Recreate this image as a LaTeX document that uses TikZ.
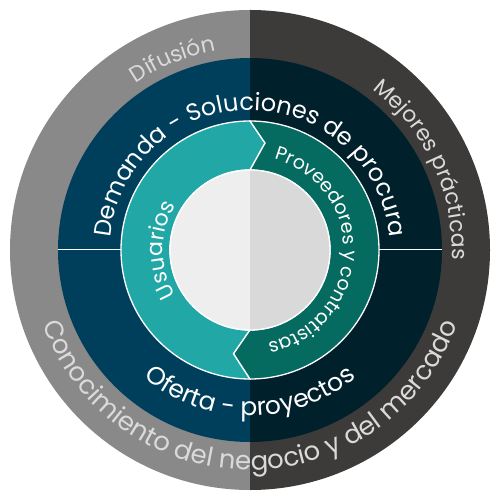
\documentclass[tikz,border=0pt]{standalone}
\usepackage{fontspec}
\setmainfont{Poppins}
\usetikzlibrary{decorations.text}
\definecolor{ringgreyA}{HTML}{898989}
\definecolor{ringgreyB}{HTML}{3D3B39}
\definecolor{ringblueA}{HTML}{003F5C}
\definecolor{ringblueB}{HTML}{00202B}
\definecolor{ringtealA}{HTML}{21A8A6}
\definecolor{ringtealB}{HTML}{056A60}
\definecolor{hubA}{HTML}{EEEEEE}
\definecolor{hubB}{HTML}{D9D9D9}
\definecolor{outertext}{HTML}{DADADA}

\tikzset{
  sep/.style={white, line width=1.3pt},
  arctext/.style 2 args={decorate, decoration={text along path, text align=center,
      text={|\fontsize{#1}{#1}\selectfont\color{white}|#2}}},
  outtext/.style 2 args={decorate, decoration={text along path, text align=center,
      text={|\fontsize{#1}{#1}\selectfont\color{outertext}|#2}}},
}

\begin{document}
\begin{tikzpicture}[x=1pt, y=1pt]
  \useasboundingbox (-250,-250) rectangle (250,250);

  % outer ring
  \fill[ringgreyA] (90:240) arc[start angle=90, end angle=270, radius=240] -- cycle;
  \fill[ringgreyB] (90:240) arc[start angle=90, end angle=-90, radius=240] -- cycle;

  % middle ring
  \fill[ringblueA] (90:192) arc[start angle=90, end angle=270, radius=192] -- cycle;
  \fill[ringblueB] (90:192) arc[start angle=90, end angle=-90, radius=192] -- cycle;
  \draw[sep, line width=1pt] (-192,0) -- (-129,0);
  \draw[sep, line width=1pt] (129,0) -- (192,0);

  % inner ring
  \filldraw[sep, fill=ringtealA] (90:129) arc[start angle=90, end angle=270, radius=129]
    -- (261:105) -- (270:80) arc[start angle=270, end angle=90, radius=80] -- (82:108) -- cycle;
  \filldraw[sep, fill=ringtealB] (90:129) arc[start angle=90, end angle=-90, radius=129]
    -- (261:105) -- (270:80) arc[start angle=-90, end angle=90, radius=80] -- (82:108) -- cycle;

  % hub
  \fill[hubA] (90:80) arc[start angle=90, end angle=270, radius=80] -- cycle;
  \fill[hubB] (90:80) arc[start angle=90, end angle=-90, radius=80] -- cycle;
  \draw[sep] (0,0) circle[radius=80];

  % labels
  \path[arctext={24}{Demanda - Soluciones de procura}] (179:140) arc[start angle=179, end angle=1, radius=140];
  \path[arctext={25}{Oferta - proyectos}] (200:166) arc[start angle=200, end angle=340, radius=166];
  \path[arctext={22}{Usuarios}] (230:87) arc[start angle=230, end angle=130, radius=87];
  \path[arctext={19}{Proveedores y contratistas}] (88:94) arc[start angle=88, end angle=-92, radius=94];
  \path[outtext={22}{Difusión}] (140:202) arc[start angle=140, end angle=84, radius=202];
  \path[outtext={22}{Mejores prácticas}] (72:202) arc[start angle=72, end angle=-22, radius=202];
  \path[outtext={26}{Conocimiento del negocio y del mercado}] (170:220) arc[start angle=170, end angle=370, radius=220];
\end{tikzpicture}
\end{document}
